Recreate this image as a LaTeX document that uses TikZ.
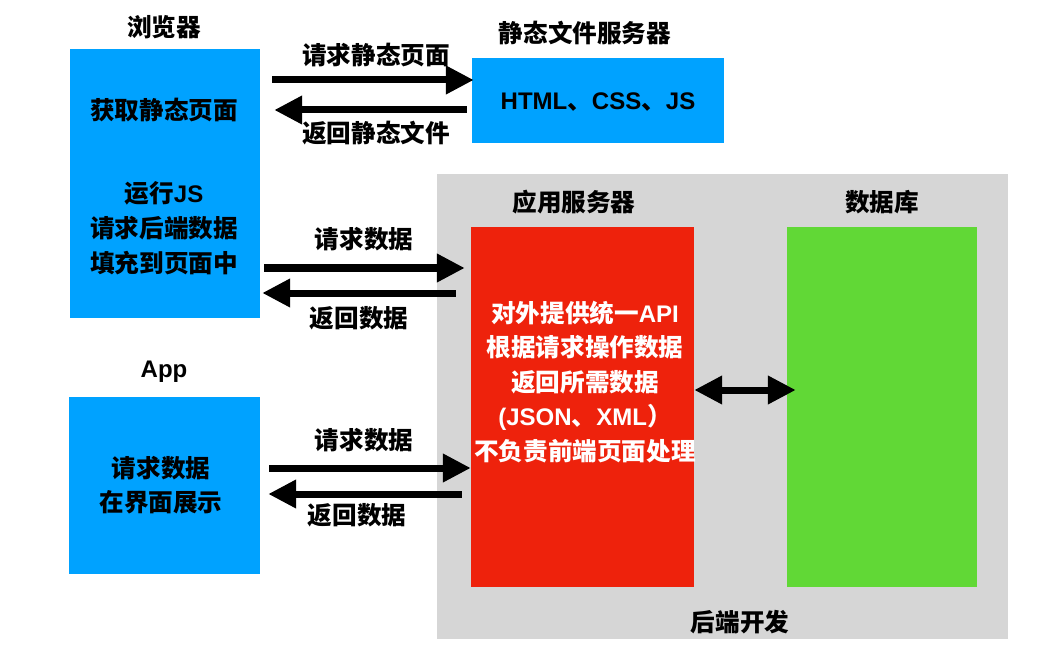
\documentclass[tikz,border=0pt]{standalone}
\usepackage{fontspec}
\setmainfont{Liberation Sans}
\newfontfamily\cjk[Scale=1.025]{Noto Sans CJK SC}
\usetikzlibrary{arrows.meta}
\definecolor{kblue}{HTML}{00A2FF}
\definecolor{kred}{HTML}{EE220C}
\definecolor{kgreen}{HTML}{61D836}
\definecolor{kgray}{HTML}{D6D6D6}
\newcommand\zh[1]{{\cjk #1}}
\tikzset{
  boxnode/.style={rectangle, inner sep=0pt, draw=none},
  lbl/.style={inner sep=0pt, align=center, font=\bfseries\fontsize{24}{34.5}\selectfont},
  arr/.style={line width=7pt, -{Triangle[length=28pt,width=27pt]}},
  darr/.style={line width=7pt, {Triangle[length=28pt,width=27pt]}-{Triangle[length=28pt,width=27pt]}},
}
\begin{document}
\begin{tikzpicture}[x=1pt,y=-1pt]
\useasboundingbox[fill=white] (0,0) rectangle (1047,671);
% boxes
\node[boxnode, fill=kgray, minimum width=571pt, minimum height=465pt] (back) at (722.5,406.5) {};
\node[boxnode, fill=kblue, minimum width=190pt, minimum height=269pt] (browser) at (165,183.5) {};
\node[boxnode, fill=kblue, minimum width=252pt, minimum height=85pt] (static) at (598,100.5) {};
\node[boxnode, fill=kblue, minimum width=191pt, minimum height=177pt] (app) at (164.5,485.5) {};
\node[boxnode, fill=kred, minimum width=223pt, minimum height=360pt] (appsrv) at (582.5,407) {};
\node[boxnode, fill=kgreen, minimum width=190pt, minimum height=360pt] (db) at (882,407) {};
% titles
\node[lbl] (tbrowser) at (164,27) {\zh{浏览器}};
\node[lbl] (tstatic) at (585,33) {\zh{静态文件服务器}};
\node[lbl] (tappsrv) at (574,202) {\zh{应用服务器}};
\node[lbl] (tdb) at (882,202) {\zh{数据库}};
\node[lbl] (tapp) at (164,372) {App};
\node[lbl] (tback) at (740,622) {\zh{后端开发}};
% box texts
\node[lbl] (xstatic) at (598,102) {HTML\zh{、}CSS\zh{、}JS};
\node[lbl] (xb1) at (164,110) {\zh{获取静态页面}};
\node[lbl, font=\bfseries\fontsize{24}{35}\selectfont] (xb2) at (164,228) {\zh{运行}JS\\\zh{请求后端数据}\\\zh{填充到页面中}};
\node[lbl, font=\bfseries\fontsize{24}{34}\selectfont] (xapp) at (161,485) {\zh{请求数据}\\\zh{在界面展示}};
\node[lbl, text=white] (xsrv) at (585,382) {\zh{对外提供统一}API\\\zh{根据请求操作数据}\\\zh{返回所需数据}\\(JSON\zh{、}XML\zh{）}\\\zh{不负责前端页面处理}};
% arrow anchor coordinates
\coordinate (r1) at ([yshift=20.5pt]static.west);
\coordinate (r2) at ([yshift=-9.5pt]static.west);
\coordinate (r3) at ([yshift=-84.5pt]browser.east);
\coordinate (r4) at ([yshift=-109.5pt]browser.east);
\coordinate (r5) at ([yshift=17.5pt]app.east);
\coordinate (r6) at ([yshift=-8.5pt]app.east);
% arrows
\draw[arr] ([xshift=12pt]browser.east |- r1) -- ([xshift=2pt]r1);
\draw[arr] ([xshift=-5pt]r2) -- ([xshift=14pt]browser.east |- r2);
\draw[arr] ([xshift=4pt]r3) -- ([xshift=-6pt]appsrv.west |- r3);
\draw[arr] ([xshift=-15pt]appsrv.west |- r4) -- ([xshift=2pt]r4);
\draw[arr] ([xshift=9pt]r5) -- (appsrv.west |- r5);
\draw[arr] ([xshift=-9pt]appsrv.west |- r6) -- ([xshift=8pt]r6);
\draw[darr] ([yshift=17pt]appsrv.east) -- ([xshift=9pt,yshift=17pt]db.west);
% arrow labels
\node[lbl] (l1) at (376,55) {\zh{请求静态页面}};
\node[lbl] (l2) at (376,133) {\zh{返回静态文件}};
\node[lbl] (l3) at (364,239) {\zh{请求数据}};
\node[lbl] (l4) at (359,318) {\zh{返回数据}};
\node[lbl] (l5) at (364,440) {\zh{请求数据}};
\node[lbl] (l6) at (357,515) {\zh{返回数据}};
\end{tikzpicture}
\end{document}
